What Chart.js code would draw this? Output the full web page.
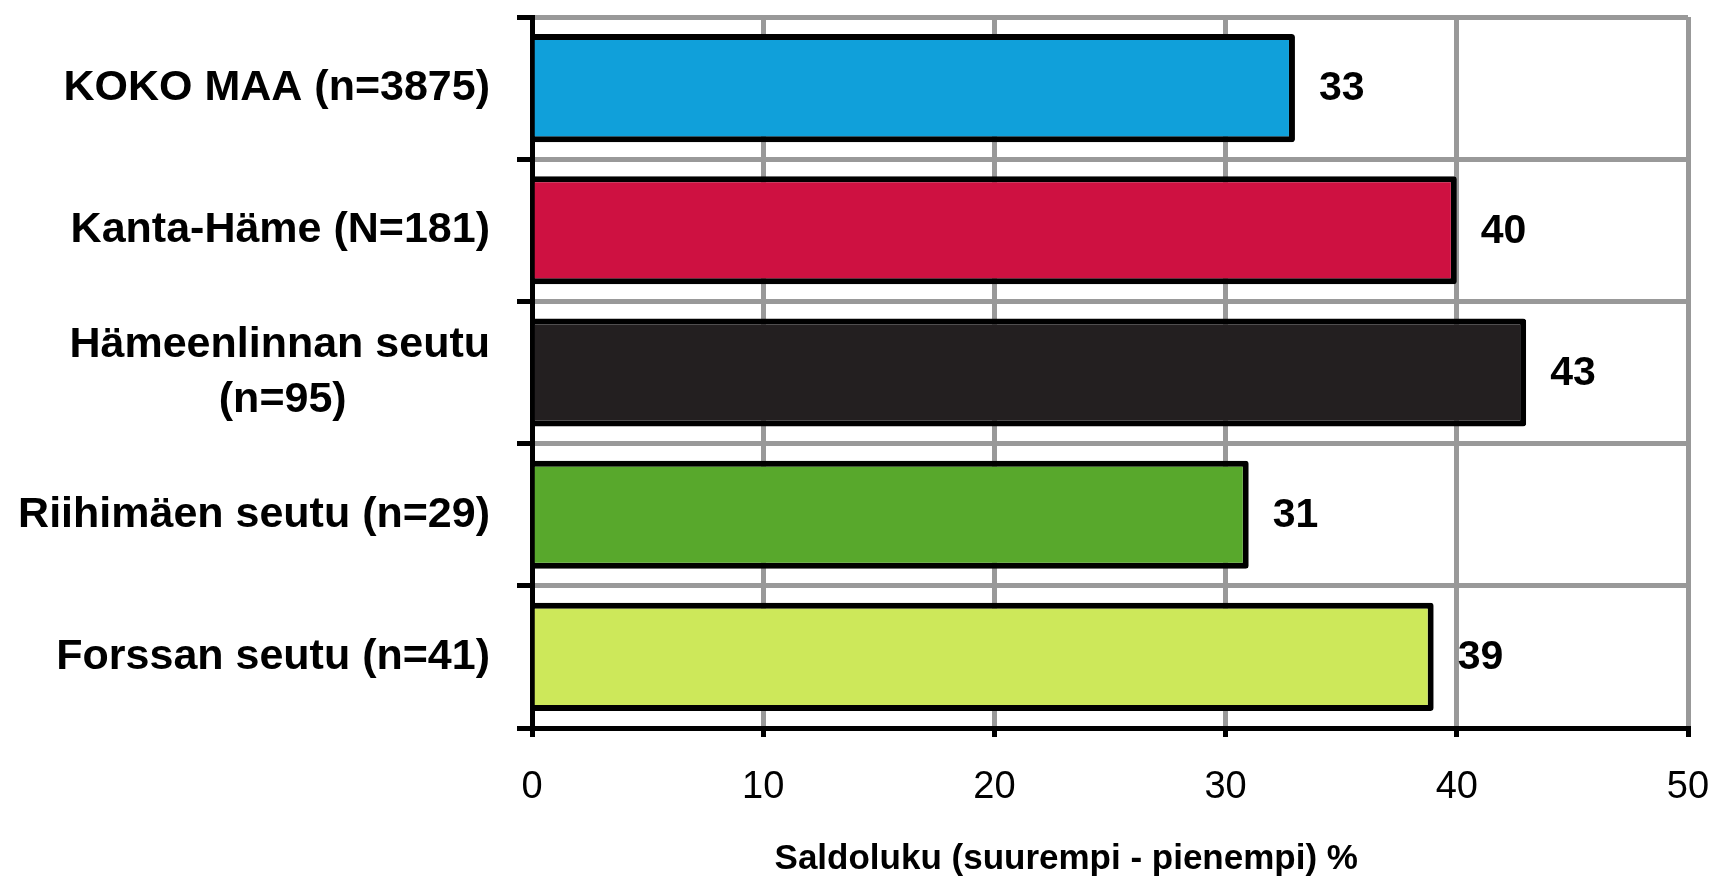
<!DOCTYPE html>
<html>
<head>
<meta charset="utf-8">
<script src="https://cdn.jsdelivr.net/npm/chart.js@4.4.1/dist/chart.umd.min.js"></script>
<style>
html,body{margin:0;padding:0;background:#ffffff;}
canvas{display:block;}
</style>
</head>
<body>
<canvas id="c" width="1713" height="880"></canvas>
<script>
// ---- data ----
const categories = [
  'KOKO MAA (n=3875)',
  'Kanta-Häme (N=181)',
  ['Hämeenlinnan seutu', '(n=95)            '],
  'Riihimäen seutu (n=29)',
  'Forssan seutu (n=41)'
];
const values = [33, 40, 43, 31, 39];
const barColors = ['#10A0DA', '#CE1141', '#231F20', '#58A82C', '#CDE85A'];
const xMin = 0;
const xMax = 50;
const xStep = 10;
const axisTitle = 'Saldoluku (suurempi - pienempi) %         ';

const plainFont = "'Liberation Sans', Arial, sans-serif";

const valueLabels = {
  id: 'valueLabels',
  afterDatasetsDraw(chart) {
    const ctx = chart.ctx;
    const meta = chart.getDatasetMeta(0);
    ctx.save();
    ctx.font = "bold 41px " + plainFont;
    ctx.fillStyle = '#000';
    ctx.textAlign = 'left';
    ctx.textBaseline = 'middle';
    meta.data.forEach((el, i) => {
      ctx.fillText(String(values[i]), el.x + 24, el.y + 1);
    });
    ctx.restore();
  }
};

new Chart(document.getElementById('c'), {
  type: 'bar',
  data: {
    labels: categories,
    datasets: [{
      data: values,
      backgroundColor: barColors,
      borderColor: '#000000',
      borderWidth: 6,
      borderRadius: 3,
      borderSkipped: 'start',
      categoryPercentage: 1,
      barPercentage: 0.76
    }]
  },
  options: {
    indexAxis: 'y',
    responsive: false,
    animation: false,
    layout: { padding: { left: 0, top: 17, right: 25, bottom: 0 } },
    plugins: { legend: { display: false }, tooltip: { enabled: false } },
    scales: {
      x: {
        min: xMin, max: xMax,
        ticks: { stepSize: xStep, color: '#000', padding: 28, font: { family: plainFont, size: 38 } },
        grid: { color: '#999999', lineWidth: 5, tickColor: '#000', tickWidth: 5, tickLength: 9 },
        border: { color: '#000', width: 5 },
        title: { display: true, text: axisTitle, color: '#000', padding: { top: 0, bottom: 0 },
                 font: { family: plainFont, size: 35, weight: 'bold' } },
        afterFit(scale) { scale.height = 152; scale.paddingLeft = 0; scale.paddingRight = 0; }
      },
      y: {
        ticks: { color: '#000', padding: 27, font: { family: plainFont, size: 43, weight: 'bold', lineHeight: 1.28 } },
        grid: { color: '#999999', lineWidth: 5, tickColor: '#000', tickWidth: 5, tickLength: 15, offset: true },
        border: { color: '#000', width: 5 },
        afterFit(scale) { scale.width = 532; scale.paddingTop = 0; scale.paddingBottom = 0; }
      }
    }
  },
  plugins: [valueLabels]
});
</script>
</body>
</html>
